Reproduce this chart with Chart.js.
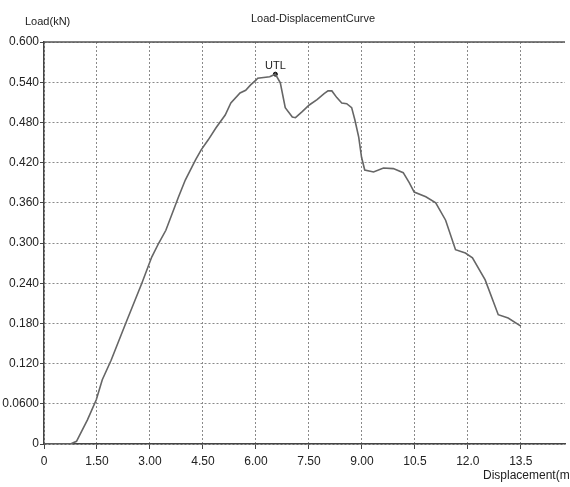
<!DOCTYPE html>
<html>
<head>
<meta charset="utf-8">
<script src="https://cdn.jsdelivr.net/npm/chart.js@4.4.0/dist/chart.umd.min.js"></script>
<style>
  html, body { margin: 0; padding: 0; background: #fff; }
  #wrap { width: 570px; height: 487px; position: relative; }
</style>
</head>
<body>
<div id="wrap"><canvas id="curve"></canvas></div>
<script>
// displacement (mm) and load (kN)
const displacement = [0, 0.75, 0.92, 1.23, 1.48, 1.65, 1.9, 2.32, 2.77, 3.05, 3.25, 3.45, 3.81, 4.0,
    4.29, 4.45, 4.65, 4.87, 5.13, 5.29, 5.55, 5.71, 5.85, 6.0, 6.05, 6.39, 6.55, 6.69, 6.83, 7.03,
    7.12, 7.31, 7.51, 7.73, 7.93, 8.04, 8.15, 8.29, 8.43, 8.57, 8.71, 8.8, 8.91, 8.99, 9.08, 9.33,
    9.61, 9.89, 10.17, 10.34, 10.48, 10.81, 11.09, 11.37, 11.65, 11.93, 12.13, 12.49, 12.86, 13.14, 13.5];
const load = [0, 0, 0.004, 0.036, 0.066, 0.096, 0.125, 0.181, 0.240, 0.279, 0.300, 0.319, 0.369, 0.394,
    0.424, 0.439, 0.454, 0.472, 0.491, 0.509, 0.524, 0.528, 0.536, 0.543, 0.546, 0.548, 0.552, 0.539, 0.502, 0.488,
    0.487, 0.496, 0.506, 0.514, 0.523, 0.527, 0.527, 0.517, 0.509, 0.508, 0.502, 0.484, 0.458, 0.428, 0.409, 0.406,
    0.412, 0.411, 0.405, 0.390, 0.376, 0.369, 0.360, 0.334, 0.290, 0.285, 0.278, 0.245, 0.193, 0.188, 0.176];

const utlPoint = { x: 6.55, y: 0.552, label: 'UTL' };

const xTicks = [0, 1.5, 3.0, 4.5, 6.0, 7.5, 9.0, 10.5, 12.0, 13.5];
const xTickLabels = ['0', '1.50', '3.00', '4.50', '6.00', '7.50', '9.00', '10.5', '12.0', '13.5'];
const yTicks = [0, 0.06, 0.12, 0.18, 0.24, 0.30, 0.36, 0.42, 0.48, 0.54, 0.60];
const yTickLabels = ['0', '0.0600', '0.120', '0.180', '0.240', '0.300', '0.360', '0.420', '0.480', '0.540', '0.600'];

const chartTitle = 'Load-DisplacementCurve';
const yAxisLabel = 'Load(kN)';
const xAxisLabel = 'Displacement(mm)';

const FONT = '"Liberation Sans", Arial, sans-serif';

// texts + top border, drawn after the chart
const labelsPlugin = {
    id: 'labels',
    afterDraw(chart) {
        const ctx = chart.ctx;
        const area = chart.chartArea;
        ctx.save();
        ctx.strokeStyle = '#555';
        ctx.lineWidth = 1.5;
        ctx.beginPath();
        ctx.moveTo(area.left, area.top);
        ctx.lineTo(area.right, area.top);
        ctx.stroke();

        ctx.fillStyle = '#222';
        ctx.font = '11px ' + FONT;
        ctx.textAlign = 'center';
        ctx.textBaseline = 'alphabetic';
        ctx.fillText(chartTitle, 313, 22);
        ctx.textAlign = 'left';
        ctx.fillText(yAxisLabel, 25, 25);

        const xs = chart.scales.x.getPixelForValue(utlPoint.x);
        const ys = chart.scales.y.getPixelForValue(utlPoint.y);
        ctx.textAlign = 'center';
        ctx.fillText(utlPoint.label, xs, ys - 5);

        ctx.font = '12px ' + FONT;
        ctx.textAlign = 'left';
        ctx.fillText(xAxisLabel, 483, 479);
        ctx.restore();
    }
};

new Chart(document.getElementById('curve'), {
    type: 'scatter',
    data: {
        datasets: [
            {
                label: 'Load',
                data: displacement.map((d, i) => ({ x: d, y: load[i] })),
                showLine: true,
                borderColor: '#666',
                borderWidth: 1.6,
                pointRadius: 0,
                tension: 0
            },
            {
                label: 'UTL',
                data: [{ x: utlPoint.x, y: utlPoint.y }],
                pointRadius: 2,
                pointBackgroundColor: '#111',
                pointBorderColor: '#111'
            }
        ]
    },
    options: {
        responsive: true,
        maintainAspectRatio: false,
        animation: false,
        layout: { padding: { top: 42, left: 0, right: 0, bottom: 0 } },
        plugins: {
            legend: { display: false },
            title: { display: false },
            tooltip: { enabled: false }
        },
        scales: {
            x: {
                type: 'linear',
                min: 0,
                max: 14.75,
                afterBuildTicks: scale => { scale.ticks = xTicks.map(v => ({ value: v })); },
                afterFit: scale => { scale.height = 43; },
                ticks: {
                    autoSkip: false,
                    maxRotation: 0,
                    padding: 5,
                    color: '#222',
                    font: { family: FONT, size: 12 },
                    callback: (v, i) => xTickLabels[i]
                },
                grid: {
                    color: '#8a8a8a',
                    lineWidth: 1,
                    tickLength: 5,
                    tickColor: '#444',
                    tickBorderDash: [],
                },
                border: { display: true, color: '#444', width: 1.5, dash: [2, 2] }
            },
            y: {
                type: 'linear',
                min: 0,
                max: 0.6,
                afterBuildTicks: scale => { scale.ticks = yTicks.map(v => ({ value: v })); },
                afterFit: scale => { scale.width = 44; },
                ticks: {
                    autoSkip: false,
                    padding: 1,
                    color: '#222',
                    font: { family: FONT, size: 12 },
                    callback: (v, i) => yTickLabels[i]
                },
                grid: {
                    color: '#8a8a8a',
                    lineWidth: 1,
                    tickLength: 4,
                    tickColor: '#444',
                    tickBorderDash: []
                },
                border: { display: true, color: '#444', width: 1.5, dash: [2, 2] }
            }
        }
    },
    plugins: [labelsPlugin]
});
</script>
</body>
</html>
